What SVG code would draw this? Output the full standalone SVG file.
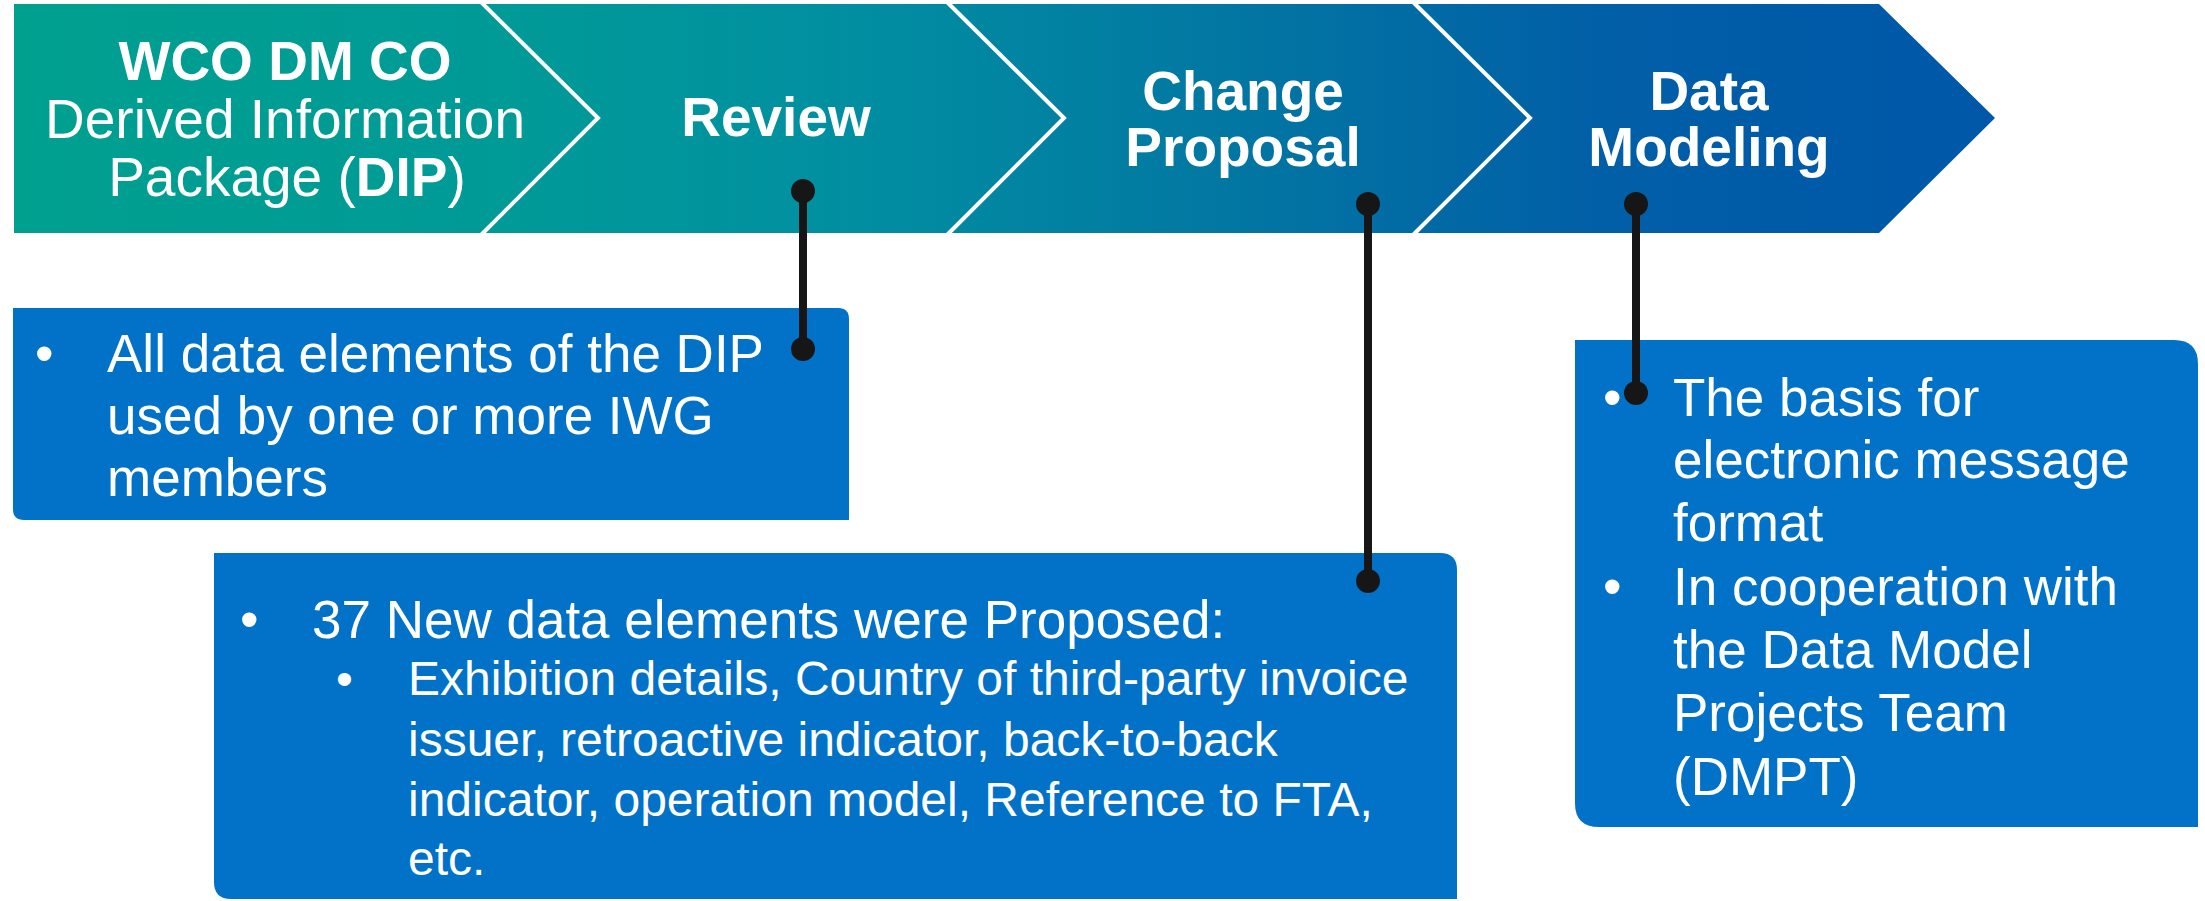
<svg xmlns="http://www.w3.org/2000/svg" width="2205" height="901" viewBox="0 0 2205 901">
<defs>
<linearGradient id="band" gradientUnits="userSpaceOnUse" x1="14" y1="0" x2="1995" y2="0">
<stop offset="0" stop-color="#00A08F"/>
<stop offset="0.25" stop-color="#009A97"/>
<stop offset="0.42" stop-color="#018FA1"/>
<stop offset="0.62" stop-color="#0276A2"/>
<stop offset="0.8" stop-color="#015FA7"/>
<stop offset="1" stop-color="#0057A8"/>
</linearGradient>
<style>
.chev{fill:url(#band);}
.sep{fill:none;stroke:#FFFFFF;stroke-width:4;}
.head{font-family:"Liberation Sans",Arial,sans-serif;font-size:55px;fill:#FFFFFF;text-anchor:middle;}
.b{font-weight:bold;}
.box{fill:#0172C7;}
.txt{font-family:"Liberation Sans",Arial,sans-serif;font-size:53px;fill:#FFFFFF;}
.sub{font-size:48px;}
.conn{stroke:#161616;stroke-width:8;fill:none;}
.dot{fill:#161616;}
</style>
</defs>
<g id="step-dip">
<polygon class="chev" points="14,4 481,4 598,118 481,233 14,233"/>
<text class="head" x="285" y="80"><tspan class="b">WCO DM CO</tspan></text>
<text class="head" x="285" y="138">Derived Information</text>
<text class="head" x="287" y="196">Package (<tspan class="b">DIP</tspan>)</text>
</g>
<g id="step-review">
<polygon class="chev" points="481,4 947,4 1064,118 947,233 481,233 598,118"/>
<text class="head b" x="776" y="136">Review</text>
</g>
<g id="step-change">
<polygon class="chev" points="947,4 1413,4 1530,118 1413,233 947,233 1064,118"/>
<text class="head b" x="1243" y="110">Change</text>
<text class="head b" x="1243" y="166">Proposal</text>
</g>
<g id="step-model">
<polygon class="chev" points="1413,4 1879,4 1995,118 1879,233 1413,233 1530,118"/>
<text class="head b" x="1709" y="110">Data</text>
<text class="head b" x="1709" y="166">Modeling</text>
</g>
<g id="separators">
<polyline class="sep" points="481,2 598,118 481,235"/>
<polyline class="sep" points="947,2 1064,118 947,235"/>
<polyline class="sep" points="1413,2 1530,118 1413,235"/>
</g>
<g id="box-review">
<path class="box" d="M13,308 H838 Q849,308 849,319 V520 H24 Q13,520 13,509 Z"/>
<text class="txt" x="35" y="372">•</text>
<text class="txt" x="107" y="372">All data elements of the DIP</text>
<text class="txt" x="107" y="434">used by one or more IWG</text>
<text class="txt" x="107" y="496">members</text>
</g>
<g id="box-change">
<path class="box" d="M214,553 H1440 Q1457,553 1457,570 V899 H231 Q214,899 214,882 Z"/>
<text class="txt" x="240" y="638">•</text>
<text class="txt" x="312" y="638">37 New data elements were Proposed:</text>
<text class="txt sub" x="336" y="695">•</text>
<text class="txt sub" x="408" y="695">Exhibition details, Country of third-party invoice</text>
<text class="txt sub" x="408" y="756">issuer, retroactive indicator, back-to-back</text>
<text class="txt sub" x="408" y="816">indicator, operation model, Reference to FTA,</text>
<text class="txt sub" x="408" y="875">etc.</text>
</g>
<g id="box-model">
<path class="box" d="M1575,340 H2174 Q2198,340 2198,364 V827 H1599 Q1575,827 1575,803 Z"/>
<text class="txt" x="1603" y="416">•</text>
<text class="txt" x="1673" y="416">The basis for</text>
<text class="txt" x="1673" y="478">electronic message</text>
<text class="txt" x="1673" y="541">format</text>
<text class="txt" x="1603" y="605">•</text>
<text class="txt" x="1673" y="605">In cooperation with</text>
<text class="txt" x="1673" y="668">the Data Model</text>
<text class="txt" x="1673" y="731">Projects Team</text>
<text class="txt" x="1673" y="795">(DMPT)</text>
</g>
<g id="connectors">
<line class="conn" x1="803" y1="191" x2="803" y2="349"/>
<circle class="dot" cx="803" cy="191" r="12"/>
<circle class="dot" cx="803" cy="349" r="12"/>
<line class="conn" x1="1368" y1="204" x2="1368" y2="581"/>
<circle class="dot" cx="1368" cy="204" r="12"/>
<circle class="dot" cx="1368" cy="581" r="12"/>
<line class="conn" x1="1636" y1="204" x2="1636" y2="393"/>
<circle class="dot" cx="1636" cy="204" r="12"/>
<circle class="dot" cx="1636" cy="393" r="12"/>
</g>
</svg>
